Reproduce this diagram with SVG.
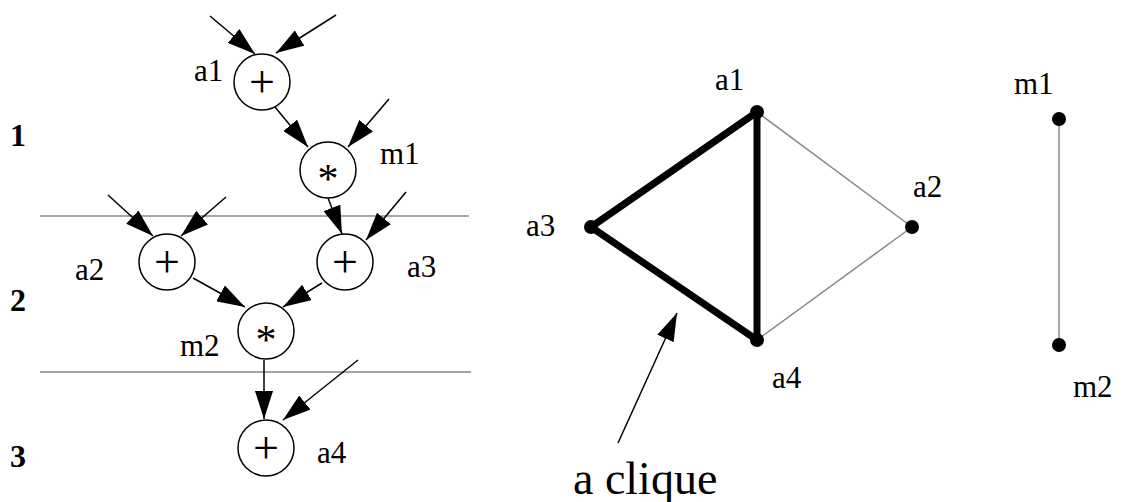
<svg xmlns="http://www.w3.org/2000/svg" width="1125" height="502" viewBox="0 0 1125 502">
<style>
.lbl{font-family:"Liberation Serif",serif;font-size:31px;fill:#000}
.row{font-family:"Liberation Serif",serif;font-size:32px;font-weight:bold;fill:#000}
.op{font-family:"Liberation Serif",serif;font-size:46px;fill:#000;text-anchor:middle}
.ast{font-family:"Liberation Serif",serif;font-size:42px;fill:#000;text-anchor:middle}
.node circle{fill:#fff;stroke:#000;stroke-width:1.5}
.e{stroke:#000;stroke-width:1.5;fill:none;marker-end:url(#ah)}
.sep{stroke:#888;stroke-width:1.5}
.thick{stroke:#000;stroke-width:7;stroke-linecap:round}
.thin{stroke:#888;stroke-width:1.5}
.dot{fill:#000}
</style>
<defs>
<marker id="ah" markerUnits="userSpaceOnUse" markerWidth="30" markerHeight="18" refX="28" refY="9" orient="auto">
<path d="M0,0 L28,9 L0,18 z" fill="#000"/>
</marker>
</defs>
<g id="separators">
<line class="sep" x1="40" y1="216" x2="469" y2="216"/>
<line class="sep" x1="40" y1="372" x2="471" y2="372"/>
</g>
<g id="rows">
<text class="row" x="10" y="146">1</text>
<text class="row" x="10" y="311">2</text>
<text class="row" x="10" y="467">3</text>
</g>
<g id="connectors">
<line class="e" x1="210" y1="16" x2="255" y2="54"/>
<line class="e" x1="336" y1="15" x2="276" y2="53"/>
<line class="e" x1="275" y1="107" x2="308" y2="147"/>
<line class="e" x1="389" y1="99" x2="348" y2="147"/>
<line class="e" x1="108" y1="195" x2="153" y2="236"/>
<line class="e" x1="226" y1="197" x2="181" y2="236"/>
<line class="e" x1="328" y1="198" x2="342" y2="234"/>
<line class="e" x1="406" y1="192" x2="366" y2="240"/>
<line class="e" x1="193" y1="278" x2="245" y2="307"/>
<line class="e" x1="322" y1="283" x2="283" y2="307"/>
<line class="e" x1="264" y1="360" x2="264" y2="419"/>
<line class="e" x1="358" y1="360" x2="283" y2="420"/>
</g>
<g id="a1" class="node"><circle cx="262" cy="82" r="28"/><text class="op" x="262" y="97">+</text><text class="lbl" x="194" y="81">a1</text></g>
<g id="m1" class="node"><circle cx="328" cy="170" r="28"/><text class="ast" x="328" y="193">*</text><text class="lbl" x="380" y="164">m1</text></g>
<g id="a2" class="node"><circle cx="167" cy="262" r="28"/><text class="op" x="167" y="277">+</text><text class="lbl" x="75" y="280">a2</text></g>
<g id="a3" class="node"><circle cx="345" cy="262" r="28"/><text class="op" x="345" y="277">+</text><text class="lbl" x="407" y="277">a3</text></g>
<g id="m2" class="node"><circle cx="266" cy="331" r="28"/><text class="ast" x="266" y="354">*</text><text class="lbl" x="180" y="356">m2</text></g>
<g id="a4" class="node"><circle cx="266" cy="448" r="28"/><text class="op" x="266" y="463">+</text><text class="lbl" x="317" y="463">a4</text></g>
<g id="graph-edges">
<line class="thin" x1="757" y1="112" x2="912" y2="227"/>
<line class="thin" x1="912" y1="227" x2="757" y2="340"/>
<line class="thick" x1="757" y1="112" x2="591" y2="227"/>
<line class="thick" x1="591" y1="227" x2="757" y2="340"/>
<line class="thick" x1="757" y1="112" x2="757" y2="340"/>
<line class="thin" x1="1059" y1="119" x2="1059" y2="345"/>
<line class="e" x1="618" y1="443" x2="677" y2="313"/>
</g>
<g id="g-a1"><circle class="dot" cx="757" cy="112" r="7"/><text class="lbl" x="715" y="90">a1</text></g>
<g id="g-a2"><circle class="dot" cx="912" cy="227" r="7"/><text class="lbl" x="913" y="197">a2</text></g>
<g id="g-a3"><circle class="dot" cx="591" cy="227" r="7"/><text class="lbl" x="526" y="236">a3</text></g>
<g id="g-a4"><circle class="dot" cx="757" cy="340" r="7"/><text class="lbl" x="772" y="388">a4</text></g>
<g id="g-m1"><circle class="dot" cx="1059" cy="119" r="7"/><text class="lbl" x="1014" y="94">m1</text></g>
<g id="g-m2"><circle class="dot" cx="1059" cy="345" r="7"/><text class="lbl" x="1073" y="397">m2</text></g>
<text id="clique-label" x="573" y="494" style="font-family:'Liberation Serif',serif;font-size:46px;fill:#000">a clique</text>
</svg>
